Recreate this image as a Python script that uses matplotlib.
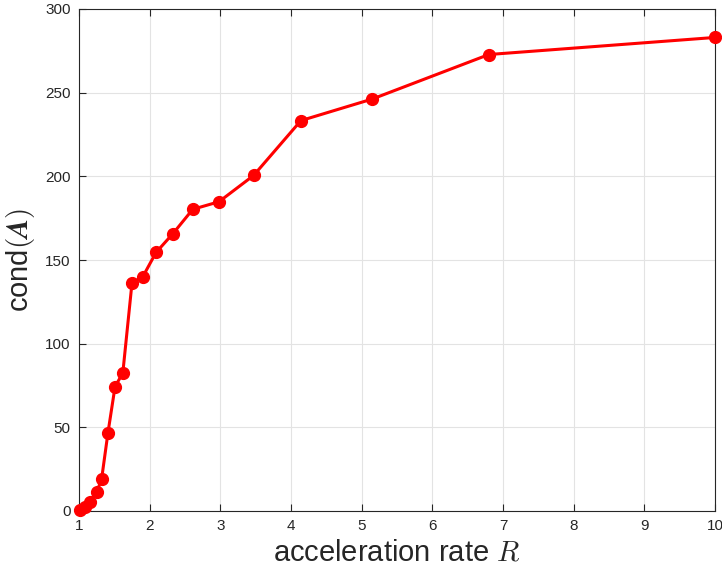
import matplotlib
matplotlib.use("Agg")
import matplotlib.pyplot as plt

# acceleration rate R and condition number of A
rate = [1.01, 1.08, 1.15, 1.25, 1.32, 1.41, 1.51, 1.62, 1.75, 1.9,
        2.09, 2.33, 2.61, 2.98, 3.47, 4.14, 5.15, 6.8, 10.0]
cond = [0.8, 2.4, 5.4, 11.2, 19.1, 46.8, 74.3, 82.5, 136.3, 139.8,
        154.5, 165.8, 180.3, 184.8, 200.5, 233.3, 246.2, 272.8, 283.0]

xticks = list(range(1, 11))
yticks = [0, 50, 100, 150, 200, 250, 300]

plt.rcParams['font.family'] = ['Liberation Sans', 'DejaVu Sans']
plt.rcParams['mathtext.fontset'] = 'cm'

fig = plt.figure(figsize=(7.22, 5.71), dpi=100)
ax = fig.add_axes([79/722, 60/571, 636/722, 502/571])

ax.plot(rate, cond, '-o', color='#ff0000', lw=2.2, ms=8.5, clip_on=False, zorder=3)

ax.set_xlim(1, 10)
ax.set_ylim(0, 300)
ax.set_xticks(xticks)
ax.set_yticks(yticks)
ax.grid(True, color='#e3e3e3', lw=0.8)
ax.set_axisbelow(True)

ax.tick_params(direction='in', top=True, right=False, length=5, width=0.8,
               colors='#262626', labelsize=11, pad=6)
for s in ax.spines.values():
    s.set_color('#262626')
    s.set_linewidth(0.8)

ax.set_xlabel(r'acceleration rate $R$', fontsize=21, color='#262626', labelpad=4)
ax.set_ylabel(r'cond$(\boldsymbol{A})$', fontsize=21, color='#262626', labelpad=6)

fig.savefig('out.png', dpi=100)
